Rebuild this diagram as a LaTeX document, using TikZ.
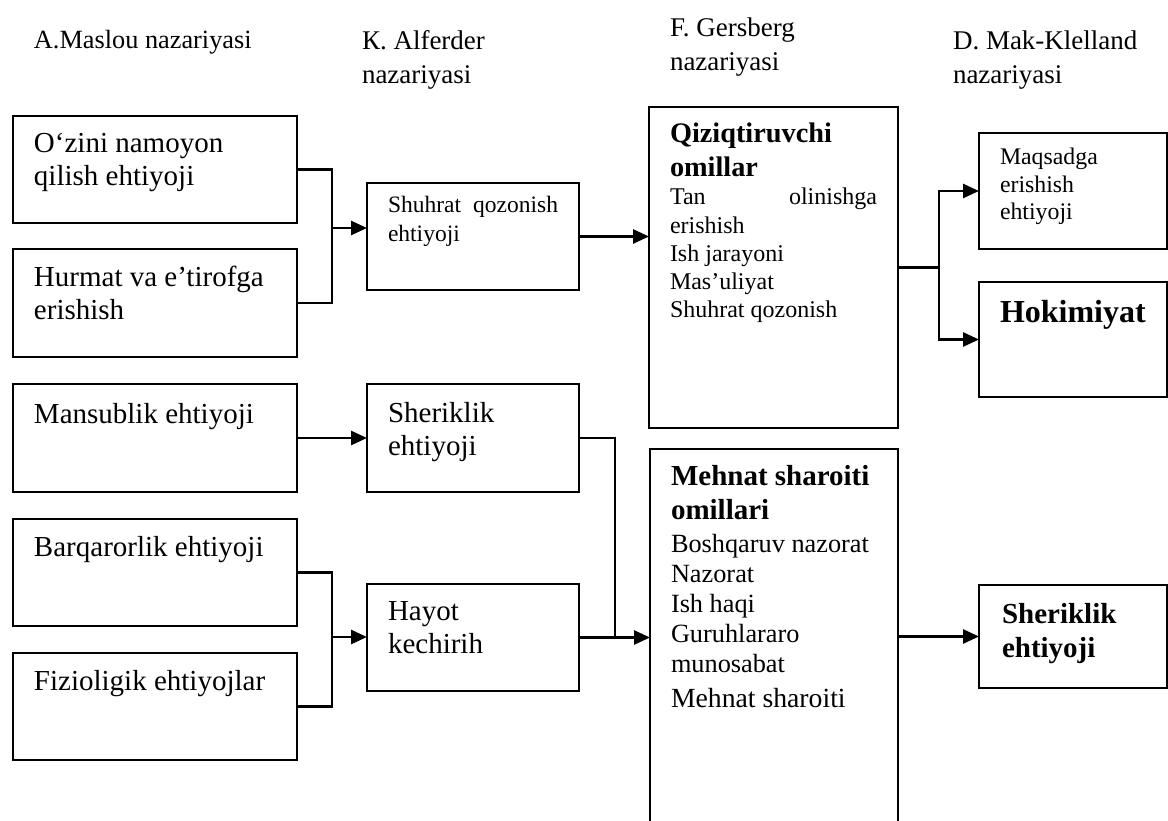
\documentclass[tikz,border=0pt]{standalone}
\usepackage{fontspec}
\setmainfont{Liberation Serif}
\usetikzlibrary{arrows.meta}
\newcommand\fsz[2]{\fontsize{#1pt}{#2pt}\selectfont}
\newcommand\rows[1]{\begin{tabular}[t]{@{}l@{}}#1\end{tabular}}
\begin{document}
\begin{tikzpicture}[x=1pt,y=-1pt,
  box/.style={draw, line width=1.5pt, inner sep=0pt, outer sep=0pt, anchor=north west},
  txt/.style={anchor=base west, inner sep=0pt, outer sep=0pt},
  head/.style={txt, font=\fsz{27}{34}},
  big/.style={txt, font=\fsz{29}{33}},
  small/.style={txt, font=\fsz{23.5}{28.5}},
  link/.style={line width=2.7pt, line join=miter},
  arr/.style={line width=2.7pt, -{Triangle[length=16pt,width=14pt]}}]
\useasboundingbox (0,0) rectangle (1168,821);
\clip (0,0) rectangle (1168,821);

% column headings
\node[head, font=\fsz{26.3}{34}] (h1) at (34,49) {A.Maslou nazariyasi};
\node[head] (h2) at (362,50) {\rows{К. Alferder\\nazariyasi}};
\node[head] (h3) at (670,37) {\rows{F. Gersberg\\nazariyasi}};
\node[head] (h4) at (953,50) {\rows{D. Mak-Klelland\\nazariyasi}};

% Maslow column
\node[box, minimum width=284pt, minimum height=107pt] (m1) at (13,116) {};
\node[box, minimum width=284pt, minimum height=108pt] (m2) at (13,249) {};
\node[box, minimum width=284pt, minimum height=108pt] (m3) at (13,384) {};
\node[box, minimum width=284pt, minimum height=107pt] (m4) at (13,519) {};
\node[box, minimum width=284pt, minimum height=107pt] (m5) at (13,653) {};
\node[big] (m1t) at (34,153) {\rows{O‘zini namoyon\\qilish ehtiyoji}};
\node[big] (m2t) at (34,287) {\rows{Hurmat va e’tirofga\\erishish}};
\node[big] (m3t) at (34,423) {Mansublik ehtiyoji};
\node[big] (m4t) at (34,556) {Barqarorlik ehtiyoji};
\node[big] (m5t) at (34,690) {Fizioligik ehtiyojlar};

% Alderfer column
\node[box, minimum width=212pt, minimum height=107pt] (a1) at (367,183) {};
\node[box, minimum width=212pt, minimum height=108pt] (a2) at (367,384) {};
\node[box, minimum width=212pt, minimum height=107pt] (a3) at (367,584) {};
\node[small] (a1t) at (388,213) {\rows{\makebox[170pt][s]{Shuhrat qozonish}\\ehtiyoji}};
\node[big] (a2t) at (388,422) {\rows{Sheriklik\\ehtiyoji}};
\node[big] (a3t) at (388,620) {\rows{Hayot\\kechirih}};

% Herzberg column
\node[box, minimum width=249pt, minimum height=321pt] (g1) at (649,107) {};
\node[box, minimum width=248pt, minimum height=400pt] (g2) at (650,449) {};
\node[txt, font=\fsz{28.3}{34}\bfseries] (g1h) at (670,143) {\rows{Qiziqtiruvchi\\omillar}};
\node[txt, font=\fsz{24}{28.2}] (g1t) at (670,205) {\rows{\makebox[207pt][s]{Tan olinishga}\\erishish\\Ish jarayoni\\Mas’uliyat\\Shuhrat qozonish}};
\node[txt, font=\fsz{29}{34}\bfseries] (g2h) at (671,485) {\rows{Mehnat sharoiti\\omillari}};
\node[txt, font=\fsz{26.3}{30}] (g2t) at (671,552) {\rows{Boshqaruv nazorat\\Nazorat\\Ish haqi\\Guruhlararo\\munosabat\\[5pt]\fsz{27.7}{30}Mehnat sharoiti}};

% McClelland column
\node[box, minimum width=188pt, minimum height=116pt] (k1) at (979,133) {};
\node[box, minimum width=188pt, minimum height=115pt] (k2) at (979,282) {};
\node[box, minimum width=188pt, minimum height=103pt] (k3) at (979,585) {};
\node[txt, font=\fsz{23.8}{27.5}] (k1t) at (1000,165) {\rows{Maqsadga\\erishish\\ehtiyoji}};
\node[txt, font=\fsz{32}{36}\bfseries] (k2t) at (1000,323) {Hokimiyat};
\node[txt, font=\fsz{29}{34}\bfseries] (k3t) at (1002,623) {\rows{Sheriklik\\ehtiyoji}};

% junction points
\coordinate (j1) at (332,228);
\coordinate (j2) at (332,637);
\coordinate (j3) at (615,637);
\coordinate (j4) at (939,267.5);

% connectors
\draw[link] (m1.east) -| (j1) |- (m2.east);
\draw[arr] (j1) -- (j1 -| a1.west);
\draw[arr] (a1.east) -- (a1.east -| g1.west);
\draw[arr] (m3.east) -- (a2.west);
\draw[link] (m4.east) -| (j2) |- (m5.east);
\draw[arr] (j2) -- (j2 -| a3.west);
\draw[link] (a2.east) -| (j3);
\draw[arr] (a3.east) -- (a3.east -| g2.west);
\draw[link] (g1.east) -- (j4);
\draw[arr] (j4) |- (k1.west);
\draw[arr] (j4) |- (k2.west);
\draw[arr] (g2.east |- k3.west) -- (k3.west);
\end{tikzpicture}
\end{document}
